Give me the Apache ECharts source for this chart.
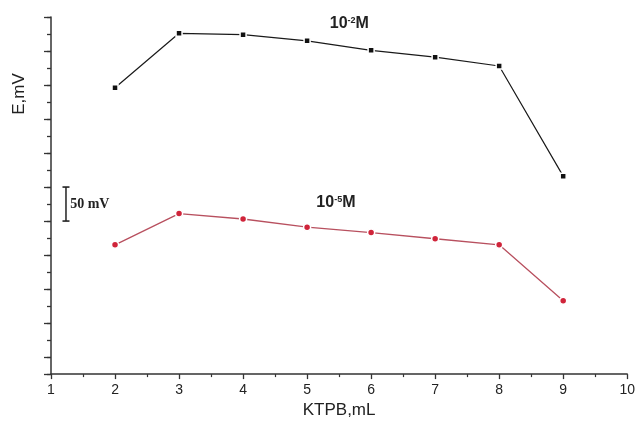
<!DOCTYPE html>
<html><head><meta charset="utf-8">
<script src="https://cdn.jsdelivr.net/npm/echarts@6/dist/echarts.min.js"></script>
<style>html,body{margin:0;padding:0;background:#fff}#c{width:638px;height:424px}</style>
</head><body><div id="c"></div>
<script>
var volumes = [2, 3, 4, 5, 6, 7, 8, 9];
var e1e2 = [421, 501, 499, 490, 476, 466, 453, 291];   // 10^-2 M
var e1e5 = [190, 236, 228, 216, 208, 199, 190, 108];   // 10^-5 M
var xTicks = [1, 2, 3, 4, 5, 6, 7, 8, 9, 10];
var scaleBarX = [1.234, 1.234];
var scaleBarY = [225, 275];

var chart = echarts.init(document.getElementById('c'));
function pairs(xs, ys){ return xs.map(function(x,i){return [x, ys[i]];}); }
var font = 'Liberation Sans, Arial, sans-serif';
chart.setOption({
  animation:false,
  grid:{left:51, right:10, top:17, bottom:48},
  xAxis:{type:'value', min:xTicks[0], max:xTicks[xTicks.length-1], interval:1,
    axisLine:{lineStyle:{color:'#333', width:1.5}},
    axisTick:{show:true, length:5, inside:false, lineStyle:{color:'#333', width:1.3}},
    minorTick:{show:true, splitNumber:2, length:3, lineStyle:{color:'#333', width:1.2}},
    splitLine:{show:false},
    axisLabel:{color:'#222', fontSize:14, fontFamily:font, margin:9},
    name:'KTPB,mL', nameLocation:'middle', nameGap:24,
    nameTextStyle:{color:'#222', fontSize:17, fontFamily:font}
  },
  yAxis:[{type:'value', min:0, max:525, interval:25,
    axisLine:{show:true, lineStyle:{color:'#333', width:1.5}},
    axisTick:{show:true, length:4, lineStyle:{color:'#333', width:1.3}},
    axisLabel:{show:false}, splitLine:{show:false}
  },{type:'value', min:0, max:10.5, interval:1, inverse:true, position:'left',
    axisLine:{show:false},
    axisTick:{show:true, length:7, lineStyle:{color:'#333', width:1.3}},
    axisLabel:{show:false}, splitLine:{show:false}
  }],
  series:[
    {type:'line', name:'1e-2', data:pairs(volumes, e1e2), symbol:'rect', symbolSize:6,
      lineStyle:{color:'#1a1a1a', width:1.2}, itemStyle:{color:'#111', borderColor:'#fff', borderWidth:1.5}},
    {type:'line', name:'1e-5', data:pairs(volumes, e1e5), symbol:'circle', symbolSize:7,
      lineStyle:{color:'#b8505f', width:1.3}, itemStyle:{color:'#d0243a', borderColor:'#fff', borderWidth:1.5}},
    {type:'line', name:'scale', data:pairs(scaleBarX, scaleBarY), symbol:'rect', symbolSize:[7,1.6],
      lineStyle:{color:'#222', width:1.5}, itemStyle:{color:'#222'}}
  ]
});
function px(x,y){ return chart.convertToPixel({xAxisIndex:0, yAxisIndex:0}, [x,y]); }
var p1 = px(5.66, 515), p2 = px(5.45, 252), p3 = px(1.3, 250);
var rich = {n:{fontSize:16, fontFamily:font, fill:'#222', fontWeight:'bold'}, s:{fontSize:9, fontFamily:font, fill:'#222', fontWeight:'bold', verticalAlign:'top', padding:[0,0,7,0]}};
chart.setOption({graphic:[
  {type:'text', x:19, y:94, rotation:Math.PI/2,
    style:{text:'E,mV', fill:'#222', font:'17px ' + font, textAlign:'center', textVerticalAlign:'middle'}},
  {type:'text', x:p1[0], y:p1[1], style:{rich:rich, text:'{n|10}{s|-2}{n|M}', textAlign:'center', textVerticalAlign:'middle'}},
  {type:'text', x:p2[0], y:p2[1], style:{rich:rich, text:'{n|10}{s|-5}{n|M}', textAlign:'center', textVerticalAlign:'middle'}},
  {type:'text', x:p3[0], y:p3[1], style:{text:'50 mV', fill:'#222', font:'bold 14px Liberation Serif, Times New Roman, serif', textAlign:'left', textVerticalAlign:'middle'}}
]});
</script></body></html>
